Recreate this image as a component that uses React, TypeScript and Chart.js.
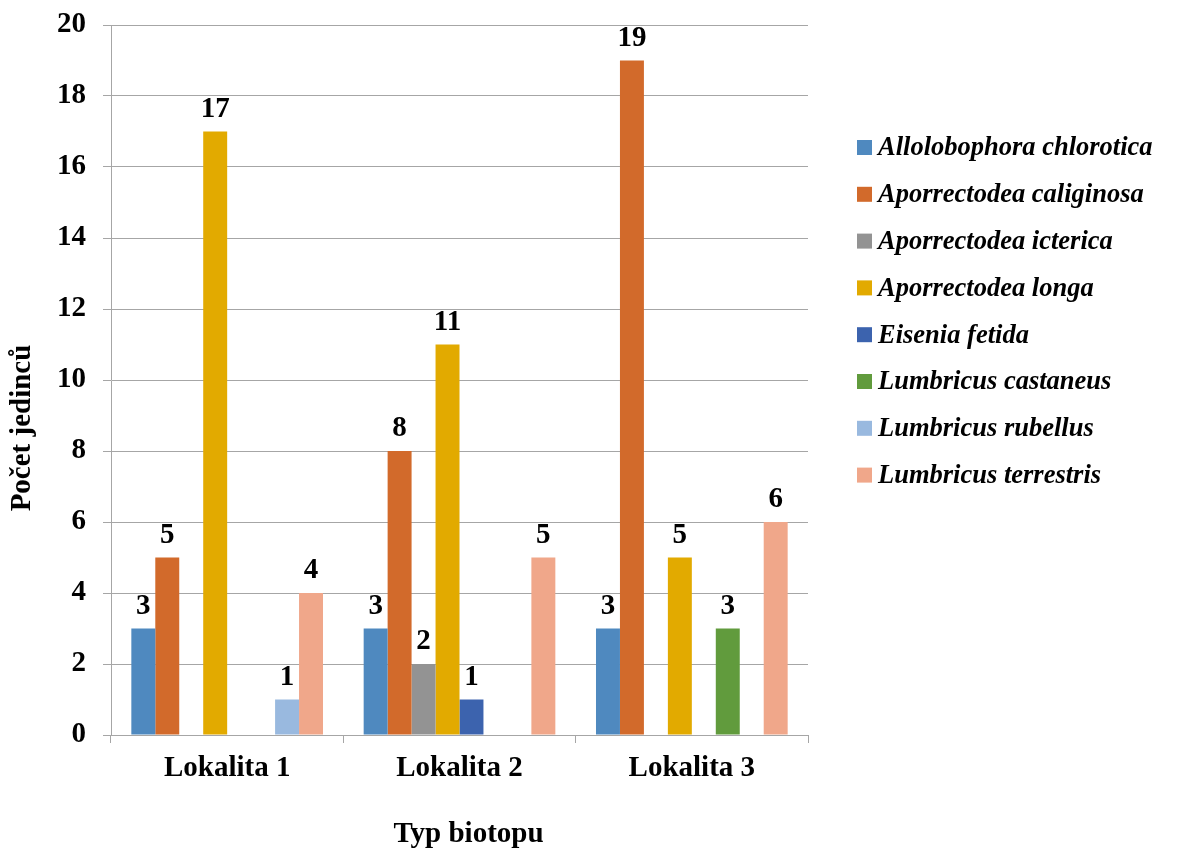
import React, { useEffect, useRef } from "react";
import { Chart, registerables } from "chart.js";

Chart.register(...registerables);

// Sampling sites (x categories)
const sites = ["Lokalita 1", "Lokalita 2", "Lokalita 3"];

// Earthworm species (one bar series each)
const species = [
  "Allolobophora chlorotica",
  "Aporrectodea caliginosa",
  "Aporrectodea icterica",
  "Aporrectodea longa",
  "Eisenia fetida",
  "Lumbricus castaneus",
  "Lumbricus rubellus",
  "Lumbricus terrestris",
];

// Individual counts per site (null = species not found)
const allolobophoraChlorotica = [3, 3, 3];
const aporrectodeaCaliginosa = [5, 8, 19];
const aporrectodeaIcterica = [null, 2, null];
const aporrectodeaLonga = [17, 11, 5];
const eiseniaFetida = [null, 1, null];
const lumbricusCastaneus = [null, null, 3];
const lumbricusRubellus = [1, null, null];
const lumbricusTerrestris = [4, 5, 6];

const seriesValues = [
  allolobophoraChlorotica,
  aporrectodeaCaliginosa,
  aporrectodeaIcterica,
  aporrectodeaLonga,
  eiseniaFetida,
  lumbricusCastaneus,
  lumbricusRubellus,
  lumbricusTerrestris,
];

const seriesColors = [
  "#4F89BF",
  "#D26A2B",
  "#939393",
  "#E2AA00",
  "#3C63AE",
  "#619B3D",
  "#99B9DF",
  "#F0A78A",
];

const yTicks = [0, 2, 4, 6, 8, 10, 12, 14, 16, 18, 20];

const xTitle = "Typ biotopu";
const yTitle = "Počet jedinců";

const SERIF = "'Liberation Serif', 'Times New Roman', serif";
const GRID = "#A6A6A6";

// Value labels above each bar
const valueLabels = {
  id: "valueLabels",
  afterDatasetsDraw(chart: any) {
    const ctx = chart.ctx;
    ctx.save();
    ctx.font = `bold 29px ${SERIF}`;
    ctx.fillStyle = "#000";
    ctx.textAlign = "center";
    ctx.textBaseline = "alphabetic";
    chart.data.datasets.forEach((ds: any, i: number) => {
      const meta = chart.getDatasetMeta(i);
      meta.data.forEach((el: any, j: number) => {
        const v = ds.data[j];
        if (v === null || v === undefined) return;
        ctx.fillText(String(v), el.x, el.y - 15);
      });
    });
    ctx.restore();
  },
};

// Axis titles and the side legend
const decorations = {
  id: "decorations",
  afterDraw(chart: any) {
    const ctx = chart.ctx;
    const area = chart.chartArea;
    ctx.save();
    ctx.fillStyle = "#000";

    // x axis title
    ctx.font = `bold 29px ${SERIF}`;
    ctx.textAlign = "center";
    ctx.textBaseline = "alphabetic";
    ctx.fillText(xTitle, (area.left + area.right) / 2 + 9, 842);

    // y axis title
    ctx.save();
    ctx.translate(23, 428);
    ctx.rotate(-Math.PI / 2);
    ctx.textBaseline = "middle";
    ctx.fillText(yTitle, 0, 0);
    ctx.restore();

    // legend
    ctx.font = `italic bold 26.5px ${SERIF}`;
    ctx.textAlign = "left";
    ctx.textBaseline = "middle";
    chart.data.datasets.forEach((ds: any, i: number) => {
      const cy = 147.5 + i * 46.8;
      ctx.fillStyle = ds.backgroundColor;
      ctx.fillRect(857, cy - 7.5, 15, 15);
      ctx.fillStyle = "#000";
      ctx.fillText(ds.label, 878, cy + 1);
    });
    ctx.restore();
  },
};

export default function App() {
  const canvasRef = useRef<HTMLCanvasElement | null>(null);

  useEffect(() => {
    if (!canvasRef.current) return;
    const chart = new Chart(canvasRef.current, {
      type: "bar",
      data: {
        labels: sites,
        datasets: species.map((name, i) => ({
          label: name,
          data: seriesValues[i],
          backgroundColor: seriesColors[i],
          borderWidth: 0,
          categoryPercentage: 0.825,
          barPercentage: 1,
        })),
      },
      options: {
        responsive: false,
        animation: false,
        layout: { padding: { top: 25, right: 378, left: 0, bottom: 0 } },
        plugins: {
          legend: { display: false },
          tooltip: { enabled: false },
        },
        scales: {
          x: {
            grid: {
              drawOnChartArea: false,
              drawTicks: true,
              tickLength: 8,
              color: GRID,
              offset: true,
            },
            border: { color: GRID, width: 1 },
            ticks: {
              color: "#000",
              padding: 8,
              font: { family: SERIF, size: 29, weight: "bold" },
            },
            afterFit(scale: any) {
              scale.height = 115;
              scale.paddingLeft = 0;
              scale.paddingRight = 0;
            },
          },
          y: {
            min: 0,
            max: 20,
            afterBuildTicks(scale: any) {
              scale.ticks = yTicks.map((v) => ({ value: v }));
            },
            grid: {
              color: GRID,
              drawTicks: true,
              tickLength: 8,
            },
            border: { color: GRID, width: 1 },
            ticks: {
              color: "#000",
              padding: 17,
              font: { family: SERIF, size: 29, weight: "bold" },
            },
            afterFit(scale: any) {
              scale.width = 111;
              scale.paddingTop = 0;
              scale.paddingBottom = 0;
            },
          },
        },
      },
      plugins: [valueLabels, decorations],
    });
    return () => chart.destroy();
  }, []);

  return (
    <div style={{ position: "absolute", left: 0, top: 0, width: 1186, height: 850, background: "#fff" }}>
      <canvas ref={canvasRef} width={1186} height={850} />
    </div>
  );
}
